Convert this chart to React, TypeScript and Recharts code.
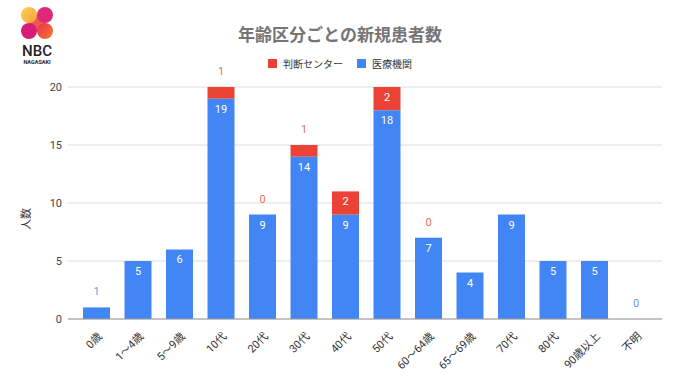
import React from "react";
import {
  BarChart,
  Bar,
  XAxis,
  YAxis,
  CartesianGrid,
  Legend,
  LabelList,
} from "recharts";

const categories = [
  "0歳",
  "1〜4歳",
  "5〜9歳",
  "10代",
  "20代",
  "30代",
  "40代",
  "50代",
  "60〜64歳",
  "65〜69歳",
  "70代",
  "80代",
  "90歳以上",
  "不明",
];
// 医療機関 (blue, bottom of stack)
const clinicValues = [1, 5, 6, 19, 9, 14, 9, 18, 7, 4, 9, 5, 5, 0];
// 判断センター (red, top of stack)
const centerValues = [null, null, null, 1, 0, 1, 2, 2, 0, null, null, null, null, null];
const yTicks = [0, 5, 10, 15, 20];

const RED = "#ea4335";
const BLUE = "#4285f4";
const FONT = "Roboto, 'Noto Sans CJK JP', sans-serif";

const chartData = categories.map((name, i) => ({
  name,
  clinic: clinicValues[i],
  center: centerValues[i],
}));

const makeLabel = (outsideColor: string) => (props: any) => {
  const { x, y, width, height, value } = props;
  if (value === null || value === undefined) return null;
  const cx = Number(x) + Number(width) / 2;
  const inside = Math.abs(Number(height)) >= 16;
  return (
    <text
      x={cx}
      y={inside ? Number(y) + 14 : Number(y) - 12}
      textAnchor="middle"
      fontSize={11}
      fontFamily={FONT}
      fill={inside ? "#ffffff" : outsideColor}
    >
      {value}
    </text>
  );
};

const XTick = (props: any) => {
  const { x, y, payload } = props;
  return (
    <g transform={`translate(${x + 6},${y + 10})`}>
      <text
        textAnchor="end"
        transform="rotate(-45)"
        fontSize={11}
        fontFamily={FONT}
        fill="#333"
      >
        {payload.value}
      </text>
    </g>
  );
};

const LegendContent = () => {
  const items = [
    { label: "判断センター", color: RED },
    { label: "医療機関", color: BLUE },
  ];
  return (
    <div
      style={{
        display: "flex",
        justifyContent: "center",
        alignItems: "center",
        fontFamily: FONT,
        fontSize: 10,
        color: "#333",
      }}
    >
      {items.map((it) => (
        <div
          key={it.label}
          style={{ display: "flex", alignItems: "center", margin: "0 7px" }}
        >
          <span
            style={{
              width: 9,
              height: 9,
              background: it.color,
              display: "inline-block",
              marginRight: 6,
            }}
          />
          {it.label}
        </div>
      ))}
    </div>
  );
};

const YLabel = (props: any) => {
  const { viewBox } = props;
  const x = viewBox.x + 6;
  const y = viewBox.y + viewBox.height / 2 + 16;
  return (
    <text
      x={x}
      y={y}
      transform={`rotate(-90, ${x}, ${y})`}
      textAnchor="middle"
      dominantBaseline="central"
      fontSize={11}
      fontFamily={FONT}
      fill="#333"
    >
      人数
    </text>
  );
};

const Logo = () => (
  <svg width={70} height={70} style={{ position: "absolute", left: 0, top: 0 }}>
    <defs>
      <linearGradient id="tl" x1="0" y1="0" x2="1" y2="1">
        <stop offset="0%" stopColor="#fcd34d" />
        <stop offset="100%" stopColor="#f59e42" />
      </linearGradient>
      <linearGradient id="br" x1="0" y1="0" x2="1" y2="1">
        <stop offset="0%" stopColor="#e8304f" />
        <stop offset="100%" stopColor="#f77a2a" />
      </linearGradient>
    </defs>
    <line x1={29} y1={15} x2={45} y2={31} stroke="#ee5a4a" strokeWidth={12} />
    <circle cx={29} cy={15} r={8} fill="url(#tl)" />
    <circle cx={45} cy={15} r={8} fill="#e0287a" />
    <circle cx={29} cy={31} r={8} fill="#d81b7a" />
    <circle cx={45} cy={31} r={8} fill="url(#br)" />
    <text
      x={37}
      y={56}
      textAnchor="middle"
      fontFamily="Roboto, sans-serif"
      fontWeight={500}
      fontSize={15}
      fill="#222"
    >
      NBC
    </text>
    <text
      x={37}
      y={64}
      textAnchor="middle"
      fontFamily="Roboto, sans-serif"
      fontWeight={700}
      fontSize={5.5}
      fill="#222"
    >
      NAGASAKI
    </text>
  </svg>
);

export default function App() {
  return (
    <div
      style={{
        position: "absolute",
        left: 0,
        top: 0,
        width: 680,
        height: 382,
        background: "#fff",
      }}
    >
      <Logo />
      <div
        style={{
          position: "absolute",
          top: 22,
          left: 0,
          width: 680,
          textAlign: "center",
          fontFamily: "'Noto Sans CJK JP', sans-serif",
          fontWeight: 700,
          fontSize: 17,
          color: "#757575",
          lineHeight: "24px",
        }}
      >
        年齢区分ごとの新規患者数
      </div>
      <BarChart
        width={680}
        height={382}
        data={chartData}
        margin={{ top: 87, right: 18, bottom: 0, left: 20 }}
        barSize={27}
      >
        <CartesianGrid vertical={false} stroke="#dcdcdc" />
        <XAxis
          dataKey="name"
          height={63}
          interval={0}
          padding={{ left: 8, right: 5 }}
          tickLine={false}
          axisLine={{ stroke: "#999" }}
          tick={<XTick />}
        />
        <YAxis
          width={48}
          domain={[0, 20]}
          ticks={yTicks}
          tickLine={false}
          axisLine={false}
          tickSize={0}
          tickMargin={6}
          tick={{ fontSize: 11, fill: "#444", fontFamily: FONT }}
          label={<YLabel />}
        />
        <Legend
          verticalAlign="middle"
          align="center"
          content={<LegendContent />}
          wrapperStyle={{ top: 56, left: 0, width: 680, height: 14 }}
        />
        <Bar
          dataKey="clinic"
          stackId="a"
          fill={BLUE}
          minPointSize={0.01}
          isAnimationActive={false}
        >
          <LabelList dataKey="clinic" content={makeLabel("#7694e0")} />
        </Bar>
        <Bar
          dataKey="center"
          stackId="a"
          fill={RED}
          minPointSize={0.01}
          isAnimationActive={false}
        >
          <LabelList dataKey="center" content={makeLabel("#e2725f")} />
        </Bar>
      </BarChart>
    </div>
  );
}
